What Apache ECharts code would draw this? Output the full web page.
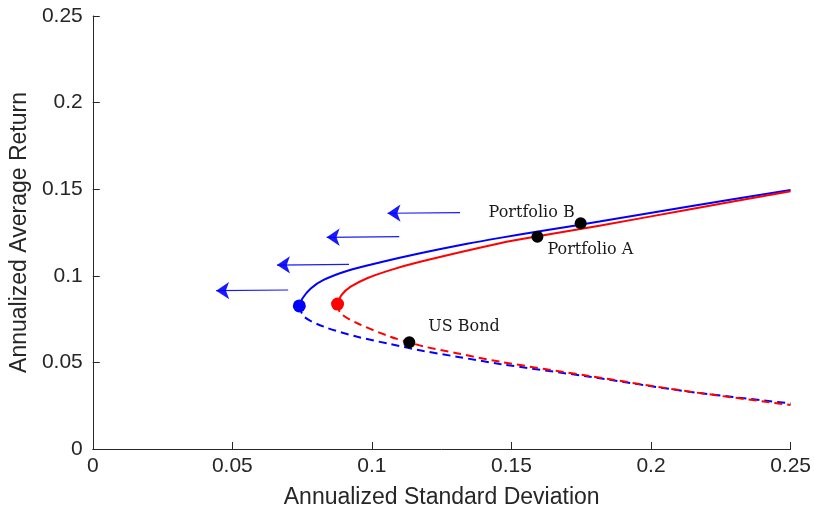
<!DOCTYPE html>
<html>
<head>
<meta charset="utf-8">
<script src="https://cdn.jsdelivr.net/npm/echarts@6/dist/echarts.min.js"></script>
<style>
  html, body { margin: 0; padding: 0; background: #fff; }
  #chart { width: 814px; height: 516px; }
</style>
</head>
<body>
<div id="chart"></div>
<script>
// frontier curves, [std dev, return]
const blueUpper = [[0.0740, 0.0826], [0.0751, 0.0869], [0.0781, 0.0927], [0.0827, 0.0976], [0.0913, 0.1029],
  [0.1031, 0.1078], [0.1173, 0.1130], [0.1341, 0.1185], [0.1459, 0.1219], [0.1601, 0.1257],
  [0.1815, 0.1313], [0.2136, 0.1400], [0.2500, 0.1495]]
const blueLower = [[0.0740, 0.0826], [0.0757, 0.0764], [0.0828, 0.0706], [0.0948, 0.0648], [0.1066, 0.0606],
  [0.1185, 0.0566], [0.1304, 0.0533], [0.1459, 0.0491], [0.1780, 0.0417], [0.2136, 0.0331], [0.2500, 0.0263]]
const redUpper = [[0.0877, 0.0837], [0.0891, 0.0889], [0.0924, 0.0937], [0.0983, 0.0986], [0.1066, 0.1033],
  [0.1173, 0.1081], [0.1459, 0.1188], [0.1594, 0.1228], [0.1815, 0.1289], [0.2136, 0.1383], [0.2500, 0.1488]]
const redLower = [[0.0877, 0.0837], [0.0888, 0.0783], [0.0948, 0.0726], [0.1066, 0.0648], [0.1134, 0.0616],
  [0.1185, 0.0592], [0.1304, 0.0553], [0.1459, 0.0504], [0.1780, 0.0421], [0.2136, 0.0332], [0.2500, 0.0254]]

// minimum variance points
const blueMin = [0.0740, 0.0826]
const redMin = [0.0877, 0.0837]

// named assets
const assetNames = ['Portfolio B', 'Portfolio A', 'US Bond']
const assetValues = [[0.1748, 0.1303], [0.1593, 0.1226], [0.1134, 0.0616]]

// arrows: [tail, tip]
const arrows = [
  [[0.1316, 0.1365], [0.1056, 0.1361]],
  [[0.1098, 0.1226], [0.0838, 0.1222]],
  [[0.0918, 0.1066], [0.0660, 0.1062]],
  [[0.0700, 0.0918], [0.0442, 0.0914]]
]

const xTicks = [0, 0.05, 0.1, 0.15, 0.2, 0.25]

const chart = echarts.init(document.getElementById('chart'))

const axisColor = '#262626'
const labelPos = [
  { position: 'left', distance: 0, offset: [0, -10] },
  { position: 'right', distance: 4, offset: [0, 13] },
  { position: 'right', distance: 13, offset: [0, -15] }
]

function curve (data, color, dashed) {
  return {
    type: 'line',
    data: data,
    smooth: 0.3,
    showSymbol: false,
    lineStyle: { color: color, width: 2, type: dashed ? [8, 5] : 'solid' }
  }
}

const option = {
  animation: false,
  grid: { left: 91, right: 22, top: 16, bottom: 67 },
  xAxis: {
    type: 'value',
    min: xTicks[0],
    max: xTicks[xTicks.length - 1],
    interval: 0.05,
    name: 'Annualized Standard Deviation',
    nameLocation: 'middle',
    nameGap: 37,
    nameTextStyle: { fontFamily: 'Liberation Sans', fontSize: 23, color: axisColor },
    axisLine: { lineStyle: { color: axisColor, width: 1 } },
    axisTick: { inside: true, length: 7, lineStyle: { color: axisColor } },
    axisLabel: { fontFamily: 'Liberation Sans', fontSize: 21, color: axisColor, margin: 7 },
    splitLine: { show: false }
  },
  yAxis: {
    type: 'value',
    min: 0,
    max: 0.25,
    interval: 0.05,
    name: 'Annualized Average Return',
    nameLocation: 'middle',
    nameGap: 54,
    nameTextStyle: { fontFamily: 'Liberation Sans', fontSize: 23, color: axisColor },
    axisLine: { show: true, lineStyle: { color: axisColor, width: 1 } },
    axisTick: { show: true, inside: true, length: 7, lineStyle: { color: axisColor } },
    axisLabel: { fontFamily: 'Liberation Sans', fontSize: 21, color: axisColor, margin: 10 },
    splitLine: { show: false }
  },
  series: [
    curve(blueUpper, '#0000ff', false),
    curve(blueLower, '#0000ff', true),
    curve(redUpper, '#ff0000', false),
    curve(redLower, '#ff0000', true),
    {
      type: 'lines',
      coordinateSystem: 'cartesian2d',
      symbol: ['none', 'arrow'],
      symbolSize: 13,
      lineStyle: { color: '#0000ff', width: 1.2, opacity: 0.9 },
      data: arrows.map(a => ({ coords: a }))
    },
    {
      type: 'scatter',
      symbolSize: 13,
      z: 5,
      data: [
        { value: blueMin, itemStyle: { color: '#0000ff', opacity: 1 } },
        { value: redMin, itemStyle: { color: '#ff0000', opacity: 1 } }
      ]
    },
    {
      type: 'scatter',
      symbolSize: 12,
      z: 6,
      itemStyle: { color: '#000', opacity: 1 },
      data: assetNames.map((n, i) => ({
        name: n,
        value: assetValues[i],
        label: Object.assign({
          show: true,
          formatter: n,
          fontFamily: 'DejaVu Serif',
          fontSize: 16,
          color: '#1a1a1a'
        }, labelPos[i])
      }))
    }
  ]
}

chart.setOption(option)
</script>
</body>
</html>
